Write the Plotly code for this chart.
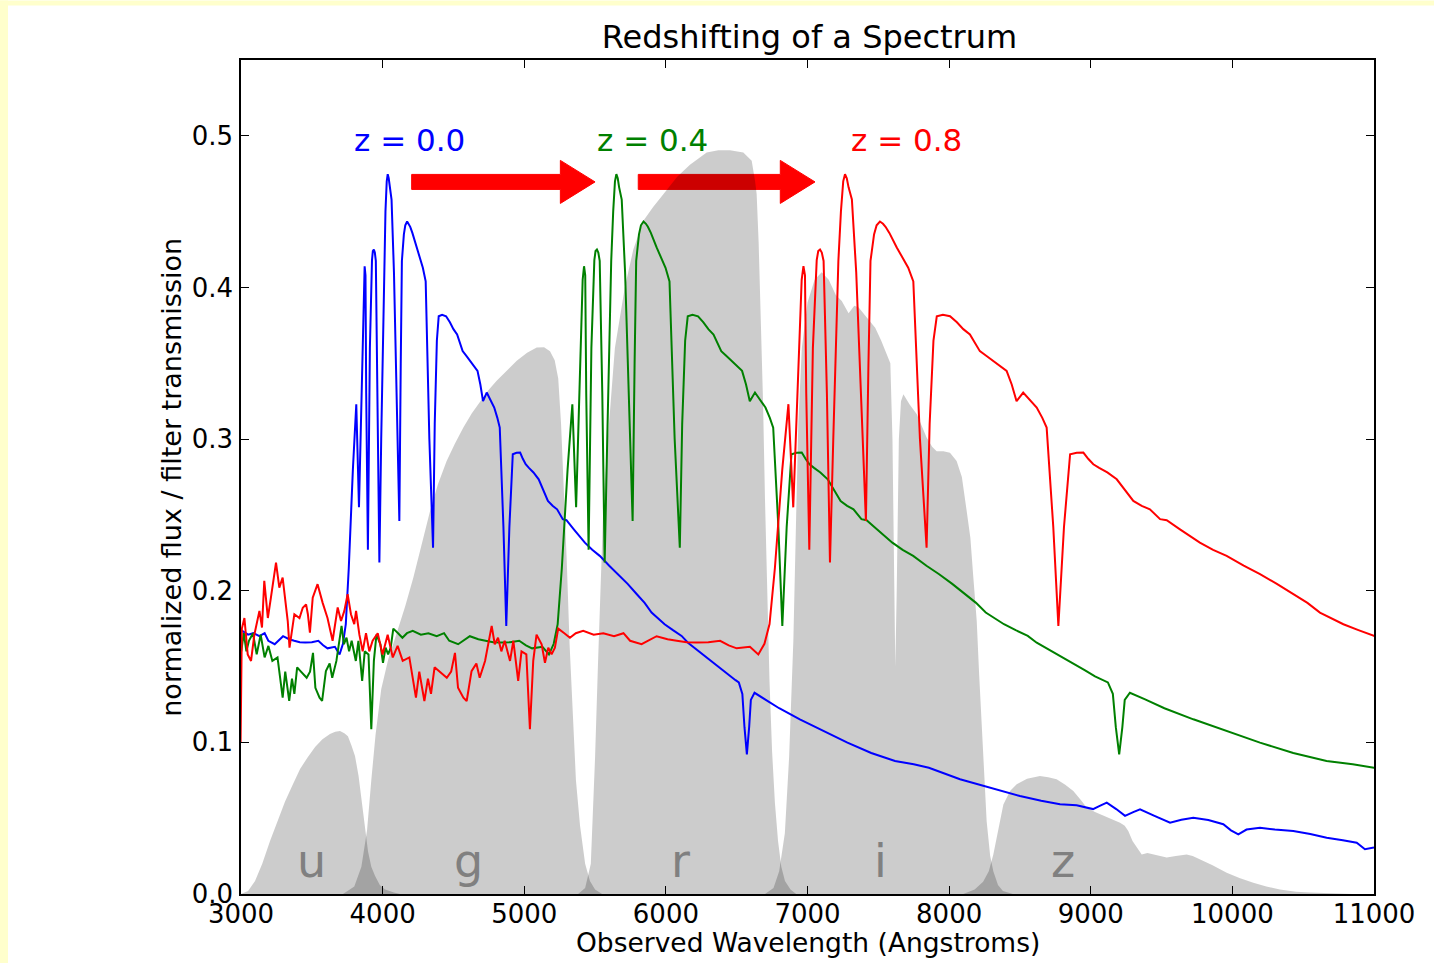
import plotly.graph_objects as go

# ---------------- data ----------------
# rest-frame spectrum (Angstrom, normalized flux)
rest_wavelength = [
    1665, 1670, 1680, 1693, 1706, 1719, 1739, 1749, 1758, 1772, 1784, 1804, 1817, 1830, 1850,
    1857, 1876, 1896, 1909, 1922, 1929, 1937, 1948, 1967, 1987, 2006, 2026, 2046, 2059, 2072,
    2085, 2098, 2111, 2118, 2131, 2144, 2157, 2170, 2183, 2203, 2222, 2242, 2262, 2281, 2301,
    2327, 2353, 2366, 2386, 2400, 2412, 2426, 2443, 2474, 2491, 2506, 2518, 2539, 2552, 2571,
    2590, 2603, 2624, 2636, 2650, 2662, 2675, 2688, 2701, 2722, 2735, 2754, 2767, 2786, 2800,
    2813, 2826, 2846, 2859, 2872, 2885, 2898, 2911, 2935, 2957, 2980, 3009, 3050, 3088, 3130,
    3167, 3193, 3238, 3297, 3340, 3376, 3415, 3454, 3500, 3546, 3580, 3611, 3663, 3696, 3720,
    3740, 3761, 3790, 3814, 3833, 3850, 3866, 3873, 3879, 3884, 3896, 3910, 3925, 3931, 3938,
    3945, 3952, 3965, 3977, 3990, 4010, 4020, 4029, 4036, 4043, 4050, 4063, 4080, 4094, 4108,
    4118, 4128, 4136, 4150, 4160, 4173, 4185, 4195, 4210, 4239, 4260, 4284, 4304, 4330, 4356,
    4368, 4383, 4396, 4420, 4448, 4475, 4500, 4526, 4545, 4565, 4590, 4618, 4645, 4670, 4690,
    4709, 4735, 4760, 4788, 4810, 4827, 4853, 4873, 4895, 4910, 4919, 4945, 4971, 4990, 5010,
    5033, 5065, 5102, 5135, 5167, 5200, 5232, 5272, 5298, 5350, 5390, 5428, 5480, 5533, 5600,
    5664, 5730, 5795, 5850, 5899, 5950, 5991, 6050, 6111, 6156, 6220, 6274, 6340, 6400, 6450,
    6492, 6515, 6540, 6555, 6572, 6588, 6600, 6626, 6700, 6800, 6946, 7100, 7282, 7450, 7618,
    7750, 7857, 8077, 8300, 8500, 8650, 8783, 8900, 9016, 9060, 9113, 9180, 9242, 9300, 9348,
    9450, 9560, 9640, 9724, 9830, 9936, 9990, 10042, 10100, 10195, 10300, 10430, 10550, 10666, 10780,
    10878, 10936, 11000,
]
rest_flux = [
    0.100, 0.175, 0.182, 0.158, 0.1537, 0.171, 0.1867, 0.1757, 0.2065, 0.182, 0.1954, 0.2185, 0.202, 0.2086, 0.180,
    0.1625, 0.1845, 0.182, 0.1888, 0.191, 0.1845, 0.1723, 0.1954, 0.2043, 0.192, 0.182, 0.167, 0.189, 0.180, 0.1867,
    0.1977, 0.1845, 0.178, 0.1867, 0.171, 0.160, 0.172, 0.160, 0.167, 0.172, 0.158, 0.171, 0.156, 0.1636, 0.1537,
    0.156, 0.1295, 0.1466, 0.1273, 0.142, 0.132, 0.1495, 0.147, 0.1426, 0.1466, 0.159, 0.136, 0.1295, 0.1273, 0.147,
    0.152, 0.1426, 0.1537, 0.1647, 0.1768, 0.1647, 0.169, 0.160, 0.167, 0.1537, 0.167, 0.1405, 0.160, 0.158, 0.1086,
    0.1537, 0.171, 0.1647, 0.1525, 0.1625, 0.158, 0.1625, 0.175, 0.172, 0.169, 0.172, 0.1735, 0.171, 0.172, 0.170,
    0.172, 0.167, 0.1647, 0.170, 0.168, 0.167, 0.166, 0.1658, 0.166, 0.167, 0.164, 0.162, 0.163, 0.158, 0.165,
    0.178, 0.215, 0.280, 0.323, 0.255, 0.330, 0.405, 0.414, 0.408, 0.330, 0.227, 0.360, 0.418, 0.424, 0.425,
    0.423, 0.4175, 0.330, 0.2186, 0.300, 0.4175, 0.450, 0.470, 0.4747, 0.472, 0.466, 0.4580, 0.410, 0.352, 0.290,
    0.246, 0.350, 0.4175, 0.435, 0.441, 0.4435, 0.442, 0.440, 0.436, 0.4264, 0.420, 0.413, 0.404, 0.300, 0.2284,
    0.310, 0.365, 0.381, 0.382, 0.381, 0.377, 0.3725, 0.369, 0.364, 0.358, 0.355, 0.3516, 0.348, 0.345, 0.336,
    0.325, 0.3307, 0.326, 0.3208, 0.314, 0.3076, 0.242, 0.1768, 0.242, 0.2724, 0.290, 0.291, 0.2911, 0.287, 0.2834,
    0.281, 0.278, 0.2735, 0.266, 0.2592, 0.256, 0.2537, 0.2472, 0.2465, 0.2405, 0.236, 0.2317, 0.227, 0.223, 0.2165,
    0.2109, 0.2045, 0.1977, 0.192, 0.1856, 0.1815, 0.1779, 0.174, 0.1702, 0.1657, 0.161, 0.157, 0.152, 0.1475, 0.1435,
    0.1410, 0.1395, 0.132, 0.110, 0.0921, 0.110, 0.128, 0.1327, 0.1285, 0.1225, 0.1152, 0.108, 0.0998, 0.093, 0.0877,
    0.0855, 0.0833, 0.0757, 0.0700, 0.0646, 0.0615, 0.0592, 0.0585, 0.056, 0.058, 0.0602, 0.056, 0.0515, 0.054, 0.0559,
    0.0515, 0.047, 0.049, 0.0503, 0.0488, 0.046, 0.042, 0.0393, 0.0425, 0.0437, 0.0425, 0.0416, 0.0395, 0.0371, 0.0355,
    0.0338, 0.0295, 0.0306,
]
redshifts = [0.0, 0.4, 0.8]
redshift_labels = ["z = 0.0", "z = 0.4", "z = 0.8"]
redshift_label_x = [4193, 5902, 7699]
redshift_label_y = [0.497, 0.497, 0.497]
line_colors = ["#0000ff", "#008000", "#ff0000"]

# SDSS filter transmission curves (Angstrom, transmission)
u_wavelength = [3000, 3050, 3099, 3150, 3205, 3260, 3311, 3365, 3417, 3470, 3523, 3575, 3628, 3665, 3699,
                3730, 3755, 3780, 3805, 3830, 3854, 3875, 3897, 3920, 3946, 3980, 4017, 4080, 4123]
u_transmission = [0.0, 0.002, 0.0086, 0.02, 0.035, 0.048, 0.061, 0.072, 0.0825, 0.090, 0.097, 0.102, 0.1055, 0.107, 0.1075,
                  0.106, 0.104, 0.098, 0.091, 0.078, 0.061, 0.043, 0.028, 0.018, 0.012, 0.006, 0.003, 0.001, 0.0]
g_wavelength = [3720, 3800, 3850, 3890, 3920, 3950, 3990, 4040, 4099, 4160, 4217, 4275, 4335, 4390, 4452,
                4510, 4570, 4630, 4688, 4745, 4805, 4875, 4947, 5020, 5088, 5140, 5182, 5215, 5240, 5260,
                5280, 5300, 5320, 5340, 5365, 5394, 5430, 5464, 5500, 5550]
g_transmission = [0.0, 0.005, 0.018, 0.042, 0.075, 0.105, 0.135, 0.155, 0.172, 0.19, 0.2087, 0.231, 0.2526, 0.27, 0.2856,
                  0.297, 0.3076, 0.317, 0.325, 0.332, 0.3384, 0.345, 0.3516, 0.357, 0.3604, 0.3605, 0.358, 0.352, 0.34, 0.31,
                  0.27, 0.22, 0.165, 0.12, 0.075, 0.045, 0.02, 0.0086, 0.003, 0.0]
r_wavelength = [5380, 5430, 5470, 5500, 5520, 5540, 5560, 5590, 5640, 5710, 5770, 5841, 5910, 5982, 6080,
                6170, 6288, 6370, 6453, 6547, 6606, 6630, 6641, 6655, 6670, 6686, 6700, 6715, 6732, 6750,
                6770, 6792, 6815, 6841, 6880, 6920]
r_transmission = [0.0, 0.004, 0.02, 0.09, 0.15, 0.2, 0.26, 0.30, 0.36, 0.40, 0.425, 0.444, 0.453, 0.4615, 0.473,
                  0.481, 0.489, 0.4905, 0.4905, 0.489, 0.4835, 0.47, 0.4617, 0.43, 0.38, 0.325, 0.26, 0.193, 0.14, 0.094,
                  0.06, 0.035, 0.018, 0.0086, 0.003, 0.0]
i_wavelength = [6700, 6760, 6800, 6840, 6870, 6900, 6920, 6935, 6960, 7000, 7050, 7100, 7150, 7200, 7242,
                7290, 7330, 7360, 7420, 7478, 7520, 7559, 7585, 7600, 7610, 7620, 7630, 7645, 7660, 7677,
                7720, 7772, 7810, 7841, 7880, 7912, 7960, 8006, 8053, 8090, 8124, 8150, 8171, 8195, 8212,
                8230, 8248, 8265, 8290, 8312, 8345, 8380, 8450]
i_transmission = [0.0, 0.004, 0.015, 0.04, 0.09, 0.167, 0.25, 0.31, 0.36, 0.39, 0.405, 0.41, 0.405, 0.395, 0.391,
                  0.383, 0.388, 0.387, 0.38, 0.3735, 0.365, 0.356, 0.35, 0.30, 0.20, 0.15, 0.20, 0.30, 0.325, 0.3296,
                  0.323, 0.3164, 0.308, 0.301, 0.295, 0.292, 0.292, 0.291, 0.2856, 0.275, 0.2526, 0.235, 0.2087, 0.18, 0.145,
                  0.114, 0.08, 0.048, 0.025, 0.015, 0.006, 0.002, 0.0]
z_wavelength = [8100, 8180, 8240, 8280, 8312, 8340, 8383, 8430, 8477, 8550, 8641, 8700, 8759, 8820, 8877,
                8930, 8971, 9030, 9089, 9150, 9207, 9240, 9265, 9295, 9324, 9360, 9400, 9442, 9490, 9536,
                9600, 9677, 9720, 9771, 9860, 9960, 10050, 10148, 10240, 10336, 10450, 10548, 10700, 10850]
z_transmission = [0.0, 0.003, 0.008, 0.015, 0.026, 0.04, 0.059, 0.068, 0.0723, 0.076, 0.0778, 0.077, 0.0757, 0.072, 0.068,
                  0.062, 0.057, 0.054, 0.0515, 0.049, 0.047, 0.045, 0.0416, 0.035, 0.0306, 0.026, 0.027, 0.026, 0.025, 0.024,
                  0.025, 0.026, 0.025, 0.0229, 0.019, 0.014, 0.0105, 0.0075, 0.005, 0.003, 0.0015, 0.001, 0.0003, 0.0]
filter_names = ["u", "g", "r", "i", "z"]
filter_label_x = [3501, 4603, 6100, 7512, 8804]
filter_label_y = [0.022, 0.022, 0.022, 0.022, 0.022]

# redshift arrows: tail, tip (Angstrom) at flux level
arrow_tail = [4205, 5805]
arrow_tip = [5500, 7053]
arrow_y = 0.4696
arrow_width = 0.0099
arrow_head_width = 0.0284
arrow_head_length = 245

x_ticks = [3000, 4000, 5000, 6000, 7000, 8000, 9000, 10000, 11000]
y_ticks = [0.0, 0.1, 0.2, 0.3, 0.4, 0.5]

FONT = "DejaVu Sans"

# ---------------- figure ----------------
fig = go.Figure()

filters = [(u_wavelength, u_transmission), (g_wavelength, g_transmission),
           (r_wavelength, r_transmission), (i_wavelength, i_transmission),
           (z_wavelength, z_transmission)]
for name, (wl, tr) in zip(filter_names, filters):
    fig.add_trace(go.Scatter(x=wl, y=tr, mode="lines", fill="tozeroy",
                             fillcolor="rgba(0,0,0,0.2)", line=dict(width=0, color="rgba(0,0,0,0)"),
                             hoverinfo="skip", showlegend=False, name=name))

for z, c in zip(redshifts, line_colors):
    fig.add_trace(go.Scatter(x=[w * (1 + z) for w in rest_wavelength], y=rest_flux,
                             mode="lines", line=dict(color=c, width=2),
                             showlegend=False, name="z = %.1f" % z))

shapes = []
for t0, t1 in zip(arrow_tail, arrow_tip):
    xh = t1 - arrow_head_length
    yl, yh = arrow_y - arrow_width / 2, arrow_y + arrow_width / 2
    hl, hh = arrow_y - arrow_head_width / 2, arrow_y + arrow_head_width / 2
    path = (f"M {t0},{yl} L {xh},{yl} L {xh},{hl} L {t1},{arrow_y} "
            f"L {xh},{hh} L {xh},{yh} L {t0},{yh} Z")
    shapes.append(dict(type="path", path=path, xref="x", yref="y", layer="below",
                       fillcolor="#ff0000", line=dict(color="#ff0000", width=1)))

# pale yellow border strips (left and top) of the original image
L, T, W, H = 241, 59.5, 1133, 834.5
def px_x(p):
    return (p - L) / W
def px_y(p):
    return (T + H - p) / H
shapes.append(dict(type="rect", xref="paper", yref="paper", x0=px_x(0), x1=px_x(8),
                   y0=px_y(963), y1=px_y(0), fillcolor="#ffffcc", line=dict(width=0), layer="below"))
shapes.append(dict(type="rect", xref="paper", yref="paper", x0=px_x(0), x1=px_x(1434),
                   y0=px_y(5), y1=px_y(0), fillcolor="#ffffcc", line=dict(width=0), layer="below"))

annotations = []
for name, x, y in zip(filter_names, filter_label_x, filter_label_y):
    annotations.append(dict(x=x, y=y, xref="x", yref="y", text=name, showarrow=False,
                            font=dict(family=FONT, size=46, color="#808080"),
                            xanchor="center", yanchor="middle"))
for txt, x, y, c in zip(redshift_labels, redshift_label_x, redshift_label_y, line_colors):
    annotations.append(dict(x=x, y=y, xref="x", yref="y", text=txt, showarrow=False,
                            font=dict(family=FONT, size=31, color=c),
                            xanchor="center", yanchor="middle"))
annotations.append(dict(x=0.5, y=px_y(943), xref="paper", yref="paper",
                        text="Observed Wavelength (Angstroms)", showarrow=False,
                        font=dict(family=FONT, size=26.5, color="black"),
                        xanchor="center", yanchor="middle"))
annotations.append(dict(x=px_x(172), y=px_y(477.5), xref="paper", yref="paper",
                        text="normalized flux / filter transmission", showarrow=False,
                        textangle=-90, font=dict(family=FONT, size=27, color="black"),
                        xanchor="center", yanchor="middle"))

fig.update_layout(
    width=1434, height=963,
    margin=dict(l=L, r=1434 - L - W, t=T, b=963 - T - H, pad=0),
    paper_bgcolor="white", plot_bgcolor="white",
    title=dict(text="Redshifting of a Spectrum", x=px_x(809.5), xref="paper", xanchor="center",
               y=1 - 37 / 963, yref="container", yanchor="middle",
               font=dict(family=FONT, size=32, color="black")),
    shapes=shapes, annotations=annotations,
    font=dict(family=FONT, color="black"),
)
fig.update_xaxes(range=[3000, 11000], tickvals=x_ticks, ticktext=[str(v) for v in x_ticks],
                 ticks="inside", ticklen=8, tickwidth=1, tickcolor="black",
                 showline=True, linecolor="black", linewidth=1.5, mirror="ticks",
                 showgrid=False, zeroline=False, tickfont=dict(family=FONT, size=26, color="black"),
                 ticklabelstandoff=-4)
fig.update_yaxes(range=[0, 0.55], tickvals=y_ticks, ticktext=["%.1f" % v for v in y_ticks],
                 ticks="inside", ticklen=8, tickwidth=1, tickcolor="black",
                 showline=True, linecolor="black", linewidth=1.5, mirror="ticks",
                 showgrid=False, zeroline=False, tickfont=dict(family=FONT, size=26, color="black"),
                 ticklabelstandoff=1)

fig.write_html("out.html")
